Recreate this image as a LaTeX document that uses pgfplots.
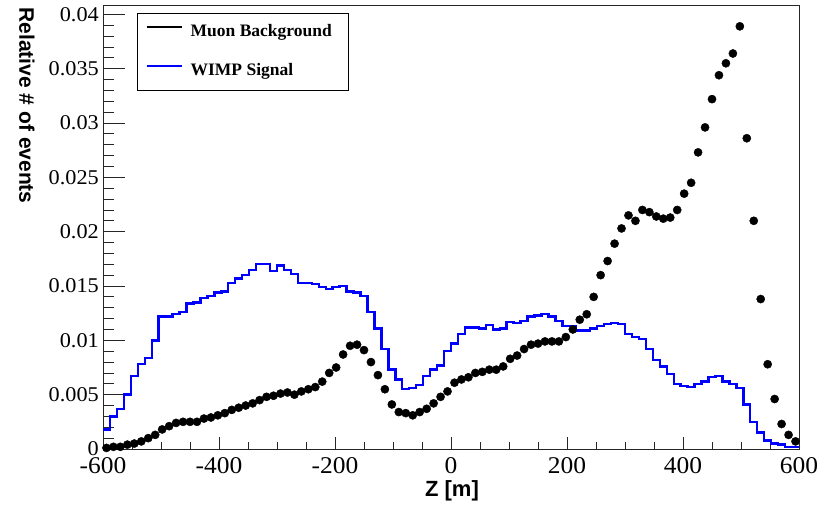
\documentclass[border=0pt]{standalone}
\usepackage{fontspec}
\setmainfont{Liberation Serif}
\setsansfont{Liberation Sans}
\newfontfamily\tickfont[FakeStretch=1.06]{Liberation Serif}
\usepackage{pgfplots}
\usepackage{pgfplotstable}
\pgfplotsset{compat=1.18}

\pgfplotstableread{
i mu wimp
0 0.0001 0.0018
1 0.0002 0.0030
2 0.0002 0.0037
3 0.0004 0.0050
4 0.0005 0.0067
5 0.0007 0.0078
6 0.0010 0.0084
7 0.0013 0.0100
8 0.0018 0.0122
9 0.0021 0.0122
10 0.0024 0.0124
11 0.0025 0.0126
12 0.0025 0.0134
13 0.0025 0.0135
14 0.0028 0.0139
15 0.0029 0.0141
16 0.0031 0.0144
17 0.0033 0.0145
18 0.0036 0.0153
19 0.0038 0.0157
20 0.0040 0.0160
21 0.0042 0.0165
22 0.0045 0.0170
23 0.0048 0.0170
24 0.0049 0.0164
25 0.0051 0.0169
26 0.0052 0.0165
27 0.0050 0.0161
28 0.0053 0.0153
29 0.0055 0.0153
30 0.0057 0.0152
31 0.0062 0.0149
32 0.0070 0.0147
33 0.0075 0.0149
34 0.0087 0.0150
35 0.0095 0.0145
36 0.0096 0.0144
37 0.0091 0.0141
38 0.0080 0.0126
39 0.0068 0.0111
40 0.0055 0.0092
41 0.0041 0.0073
42 0.0034 0.0064
43 0.0033 0.0055
44 0.0031 0.0056
45 0.0034 0.0059
46 0.0037 0.0067
47 0.0042 0.0073
48 0.0048 0.0077
49 0.0053 0.0090
50 0.0061 0.0097
51 0.0064 0.0106
52 0.0066 0.0112
53 0.0070 0.0112
54 0.0071 0.0111
55 0.0073 0.0114
56 0.0073 0.0110
57 0.0076 0.0111
58 0.0083 0.0117
59 0.0086 0.0116
60 0.0092 0.0118
61 0.0096 0.0122
62 0.0097 0.0123
63 0.0099 0.0124
64 0.0099 0.0122
65 0.0099 0.0118
66 0.0103 0.0113
67 0.0110 0.0113
68 0.0119 0.0109
69 0.0124 0.0109
70 0.0140 0.0111
71 0.0160 0.0113
72 0.0173 0.0115
73 0.0189 0.0116
74 0.0203 0.0115
75 0.0215 0.0106
76 0.0210 0.0103
77 0.0220 0.0101
78 0.0218 0.0092
79 0.0214 0.0082
80 0.0212 0.0076
81 0.0213 0.0069
82 0.0220 0.0060
83 0.0235 0.0058
84 0.0245 0.0057
85 0.0273 0.0060
86 0.0296 0.0062
87 0.0322 0.0066
88 0.0344 0.0067
89 0.0355 0.0062
90 0.0364 0.0060
91 0.0389 0.0056
92 0.0286 0.0041
93 0.0210 0.0025
94 0.0138 0.0015
95 0.0078 0.0008
96 0.0046 0.0005
97 0.0023 0.0004
98 0.0013 0.0002
99 0.0007 0.0002
100 nan 0.0002
}\data

\begin{document}
\begin{tikzpicture}[x=1bp,y=1bp]
\path[use as bounding box] (0,0) rectangle (833,505);
\begin{axis}[
  at={(103bp,56bp)}, anchor=south west,
  scale only axis, width=696bp, height=443.3bp,
  xmin=-600, xmax=600, ymin=0, ymax=0.0408,
  axis line style={black!85, line width=0.9bp},
  tick pos=left, tick align=inside,
  xtick={-600,-400,-200,0,200,400,600},
  xticklabels={-600,-400,-200,0,200,400,600},
  ytick={0,0.005,0.01,0.015,0.02,0.025,0.03,0.035,0.04},
  yticklabels={0,0.005,0.01,0.015,0.02,0.025,0.03,0.035,0.04},
  minor x tick num=3, minor y tick num=4,
  xtick style={/pgfplots/major tick length=12.3bp,/pgfplots/minor tick length=7bp, black!85, line width=0.8bp},
  ytick style={/pgfplots/major tick length=21.7bp,/pgfplots/minor tick length=10.7bp, black!85, line width=0.8bp},
  x tick label style={font=\tickfont\fontsize{24bp}{24bp}\selectfont, inner sep=0pt, yshift=-8bp},
  y tick label style={font=\tickfont\fontsize{21bp}{21bp}\selectfont, inner sep=0pt, xshift=-4bp},
  unbounded coords=discard,
  clip=true,
  legend style={at={(axis description cs:0,1)}, anchor=north west,
    xshift=34bp, yshift=-7.6bp, draw=black, line width=0.9bp, fill=white,
    inner xsep=8bp, inner ysep=11bp, row sep=23bp, column sep=8bp,
    font=\bfseries\fontsize{17.5bp}{17.5bp}\selectfont,
    nodes={inner sep=0pt, text height=12bp, text depth=4bp}},
  legend cell align=left,
  legend image code/.code={\draw[#1, line width=2.2bp] (0bp,5.8bp) -- (35bp,5.8bp);},
]
\addlegendimage{black}
\addlegendentry{\hbox to 150bp{Muon Background\hfil}}
\addlegendimage{blue}
\addlegendentry{WIMP Signal}
\addplot[blue, line width=2.4bp, const plot, forget plot]
  table[x expr={-600+12*\thisrow{i}}, y=wimp]{\data};
\addplot[only marks, mark=*, mark size=4.1bp, mark options={fill=black, draw=black}, forget plot]
  table[x expr={-594+12*\thisrow{i}}, y=mu]{\data};
\end{axis}
\node[rotate=-90, anchor=west, font=\sffamily\bfseries\fontsize{21bp}{21bp}\selectfont] at (27,501) {Relative \# of events};
\node[font=\sffamily\bfseries\fontsize{22bp}{22bp}\selectfont] at (452,14) {Z [m]};
\end{tikzpicture}
\end{document}
